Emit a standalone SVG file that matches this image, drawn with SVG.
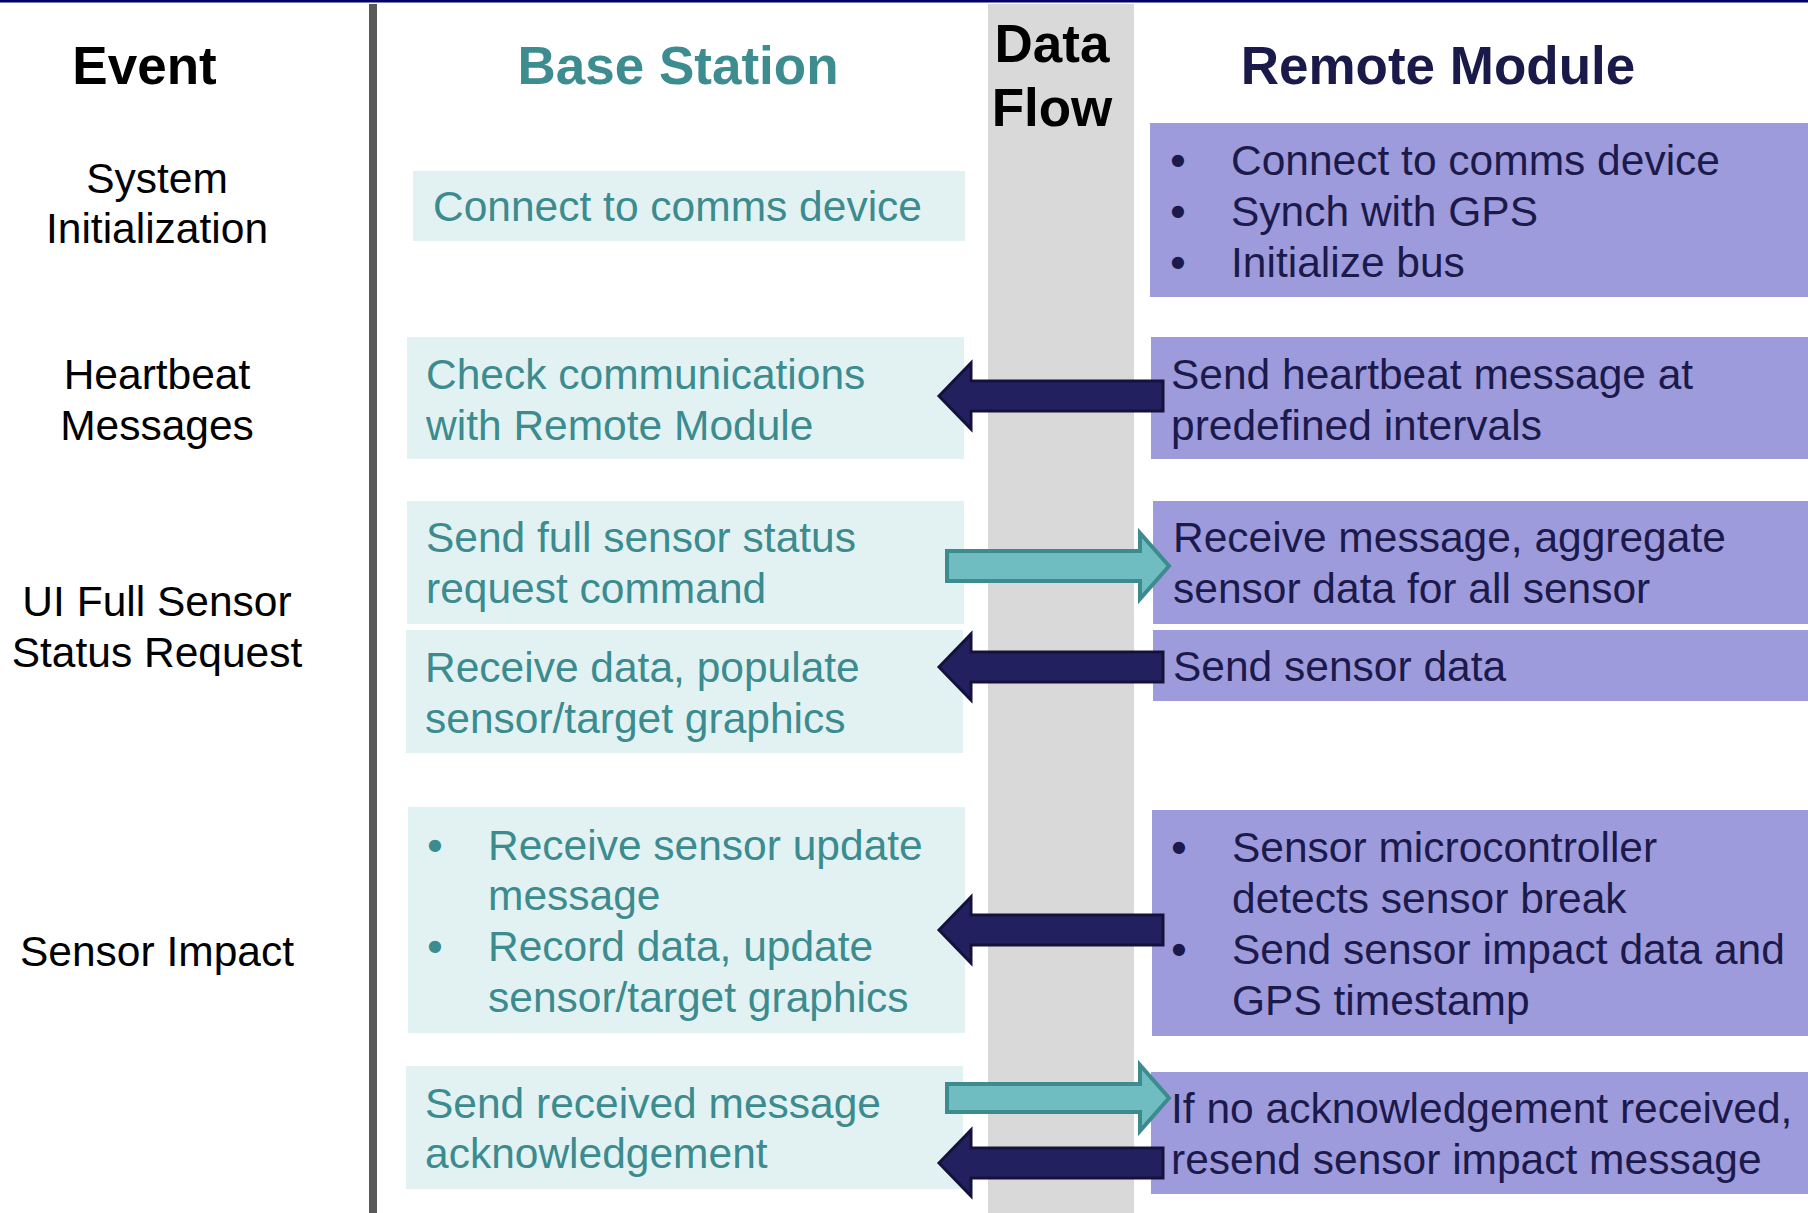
<svg xmlns="http://www.w3.org/2000/svg" width="1808" height="1213" viewBox="0 0 1808 1213">
<style>
text{font-family:"Liberation Sans",Arial,sans-serif}
.hd{font-size:53px;font-weight:bold}
.ev{font-size:42.5px;fill:#000;text-anchor:middle}
.bs{fill:#e2f2f2}
.rm{fill:#9e9bdc}
.bt{font-size:42.5px;fill:#3b8b8f}
.rt{font-size:42.5px;fill:#1b1a4b}
.bu{text-anchor:middle;font-weight:bold}
.navy{fill:#22205f;stroke:#14123d;stroke-width:3;stroke-linejoin:miter}
.teal{fill:#70bdc1;stroke:#3d8b8f;stroke-width:4;stroke-linejoin:miter}
</style>
<rect x="0" y="0" width="1808" height="1213" fill="#fff"/>
<rect x="0" y="0" width="1808" height="2.5" fill="#000066"/>
<rect x="369" y="4" width="8" height="1209" fill="#595959"/>
<rect x="988" y="4" width="146" height="1209" fill="#d9d9d9"/>

<g id="headers">
<text class="hd" x="144.5" y="84" text-anchor="middle" fill="#000">Event</text>
<text class="hd" x="678" y="84" text-anchor="middle" fill="#3d8c90">Base Station</text>
<text class="hd" x="1052" y="62" text-anchor="middle" fill="#000">Data</text>
<text class="hd" x="1052" y="126" text-anchor="middle" fill="#000">Flow</text>
<text class="hd" x="1438" y="84" text-anchor="middle" fill="#1a1a4a">Remote Module</text>
</g>

<g id="events">
<text class="ev" x="157" y="193">System</text>
<text class="ev" x="157" y="243">Initialization</text>
<text class="ev" x="157" y="389">Heartbeat</text>
<text class="ev" x="157" y="440">Messages</text>
<text class="ev" x="157" y="616">UI Full Sensor</text>
<text class="ev" x="157" y="667">Status Request</text>
<text class="ev" x="157" y="966">Sensor Impact</text>
</g>

<g id="b1"><rect class="bs" x="413" y="171" width="552" height="70"/>
<text class="bt" x="433" y="221">Connect to comms device</text></g>
<g id="b2"><rect class="bs" x="407" y="337" width="557" height="122"/>
<text class="bt" x="426" y="389">Check communications</text>
<text class="bt" x="426" y="439.5">with Remote Module</text></g>
<g id="b3"><rect class="bs" x="407" y="501" width="557" height="123"/>
<text class="bt" x="426" y="552">Send full sensor status</text>
<text class="bt" x="426" y="603">request command</text></g>
<g id="b4"><rect class="bs" x="406" y="630" width="557" height="123"/>
<text class="bt" x="425" y="682">Receive data, populate</text>
<text class="bt" x="425" y="733">sensor/target graphics</text></g>
<g id="b5"><rect class="bs" x="408" y="807" width="557" height="226"/>
<text class="bt bu" x="435" y="860">•</text>
<text class="bt" x="488" y="860">Receive sensor update</text>
<text class="bt" x="488" y="910">message</text>
<text class="bt bu" x="435" y="961">•</text>
<text class="bt" x="488" y="961">Record data, update</text>
<text class="bt" x="488" y="1012">sensor/target graphics</text></g>
<g id="b6"><rect class="bs" x="406" y="1066" width="557" height="123"/>
<text class="bt" x="425" y="1118">Send received message</text>
<text class="bt" x="425" y="1168">acknowledgement</text></g>

<g id="r1"><rect class="rm" x="1150" y="123" width="658" height="174"/>
<text class="rt bu" x="1178" y="175">•</text>
<text class="rt" x="1231" y="175">Connect to comms device</text>
<text class="rt bu" x="1178" y="226">•</text>
<text class="rt" x="1231" y="226">Synch with GPS</text>
<text class="rt bu" x="1178" y="277">•</text>
<text class="rt" x="1231" y="277">Initialize bus</text></g>
<g id="r2"><rect class="rm" x="1151" y="337" width="657" height="122"/>
<text class="rt" x="1171" y="389">Send heartbeat message at</text>
<text class="rt" x="1171" y="439.5">predefined intervals</text></g>
<g id="r3"><rect class="rm" x="1153" y="501" width="655" height="123"/>
<text class="rt" x="1173" y="552">Receive message, aggregate</text>
<text class="rt" x="1173" y="603">sensor data for all sensor</text></g>
<g id="r4"><rect class="rm" x="1153" y="630" width="655" height="71"/>
<text class="rt" x="1173" y="681">Send sensor data</text></g>
<g id="r5"><rect class="rm" x="1152" y="810" width="656" height="226"/>
<text class="rt bu" x="1179" y="862">•</text>
<text class="rt" x="1232" y="862">Sensor microcontroller</text>
<text class="rt" x="1232" y="913">detects sensor break</text>
<text class="rt bu" x="1179" y="964">•</text>
<text class="rt" x="1232" y="964">Send sensor impact data and</text>
<text class="rt" x="1232" y="1015">GPS timestamp</text></g>
<g id="r6"><rect class="rm" x="1151" y="1072" width="657" height="122"/>
<text class="rt" x="1171" y="1123">If no acknowledgement received,</text>
<text class="rt" x="1171" y="1174">resend sensor impact message</text></g>

<g id="connectors">
<polygon class="navy" points="939,396 971,363 971,381 1163,381 1163,411 971,411 971,429"/>
<polygon class="teal" points="947,551 1140,551 1140,533 1169,566 1140,599 1140,581 947,581"/>
<polygon class="navy" points="939,667 971,634 971,652 1163,652 1163,682 971,682 971,700"/>
<polygon class="navy" points="939,930 971,897 971,915 1163,915 1163,945 971,945 971,963"/>
<polygon class="teal" points="947,1084 1140,1084 1140,1065 1169,1098 1140,1131 1140,1112 947,1112"/>
<polygon class="navy" points="939,1163 971,1130 971,1148 1163,1148 1163,1178 971,1178 971,1196"/>
</g>
</svg>
